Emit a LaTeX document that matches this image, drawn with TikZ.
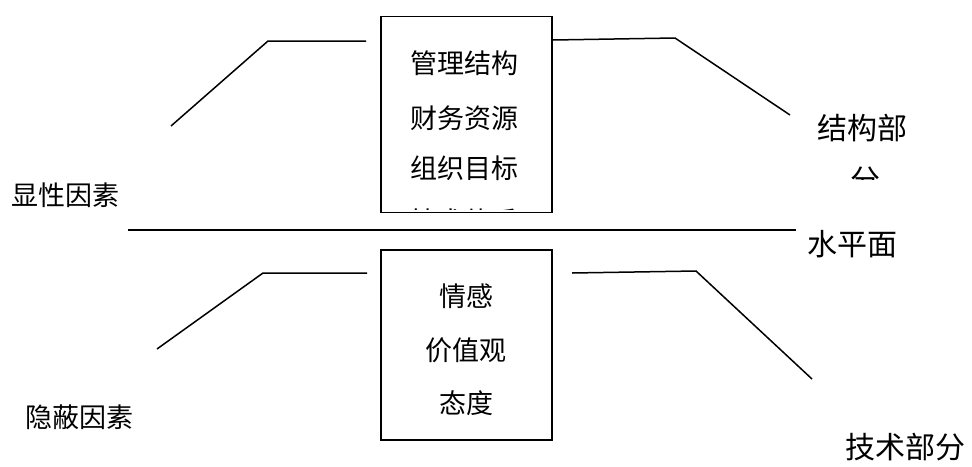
\documentclass[tikz,border=0pt]{standalone}
\usepackage{fontspec}
\setmainfont{Noto Sans CJK SC}
\begin{document}
\begin{tikzpicture}[x=1pt,y=-1pt,
  box/.style={draw,line width=1.8pt,inner sep=0pt,minimum width=171pt},
  ln/.style={line width=1.5pt,line join=miter},
  small/.style={inner sep=0pt,font=\fontsize{27}{32}\selectfont},
  big/.style={inner sep=0pt,font=\fontsize{30}{36}\selectfont}]
\useasboundingbox (0,0) rectangle (972,466);
\fill[white] (0,0) rectangle (972,466);
% boxes
\node[box,minimum height=196pt] (tb) at (466.5,114.5) {};
\node[box,minimum height=190pt] (bb) at (466.5,345) {};
% texts in top box
\node[small] (t1) at (464,63) {管理结构};
\node[small] (t2) at (464,118) {财务资源};
\node[small] (t3) at (464,168) {组织目标};
\begin{scope}
  \clip (382,190) rectangle (551,209);
  \node[small] (t4) at (464,221) {技术体系};
\end{scope}
% texts in bottom box
\node[small] (b1) at (466,296) {情感};
\node[small] (b2) at (466,350) {价值观};
\node[small] (b3) at (466,403) {态度};
% labels
\node[small] (l1) at (66,195) {显性因素};
\node[small] (l2) at (79,417) {隐蔽因素};
\node[big] (r1) at (862,128) {结构部};
\begin{scope}
  \clip (830,150) rectangle (900,179);
  \node[big] (r1b) at (865,180) {分};
\end{scope}
\node[big] (r2) at (852,244) {水平面};
\node[big] (r3) at (905,447) {技术部分};
% horizontal water line
\coordinate (h1) at (128,230);
\coordinate (h2) at (796,230);
\draw[ln] (h1) -- (h2);
% connectors
\coordinate (a1) at (171,126); \coordinate (a2) at (268,41); \coordinate (a3) at (366,41);
\draw[ln] (a1) -- (a2) -- (a3);
\coordinate (c1) at (tb.east |- 0,40); \coordinate (c2) at (675,38); \coordinate (c3) at (790,115);
\draw[ln] (c1) -- (c2) -- (c3);
\coordinate (d1) at (157,349); \coordinate (d2) at (263,273); \coordinate (d3) at (367,273);
\draw[ln] (d1) -- (d2) -- (d3);
\coordinate (e1) at (572,273); \coordinate (e2) at (696,271); \coordinate (e3) at (812,379);
\draw[ln] (e1) -- (e2) -- (e3);
\end{tikzpicture}
\end{document}
